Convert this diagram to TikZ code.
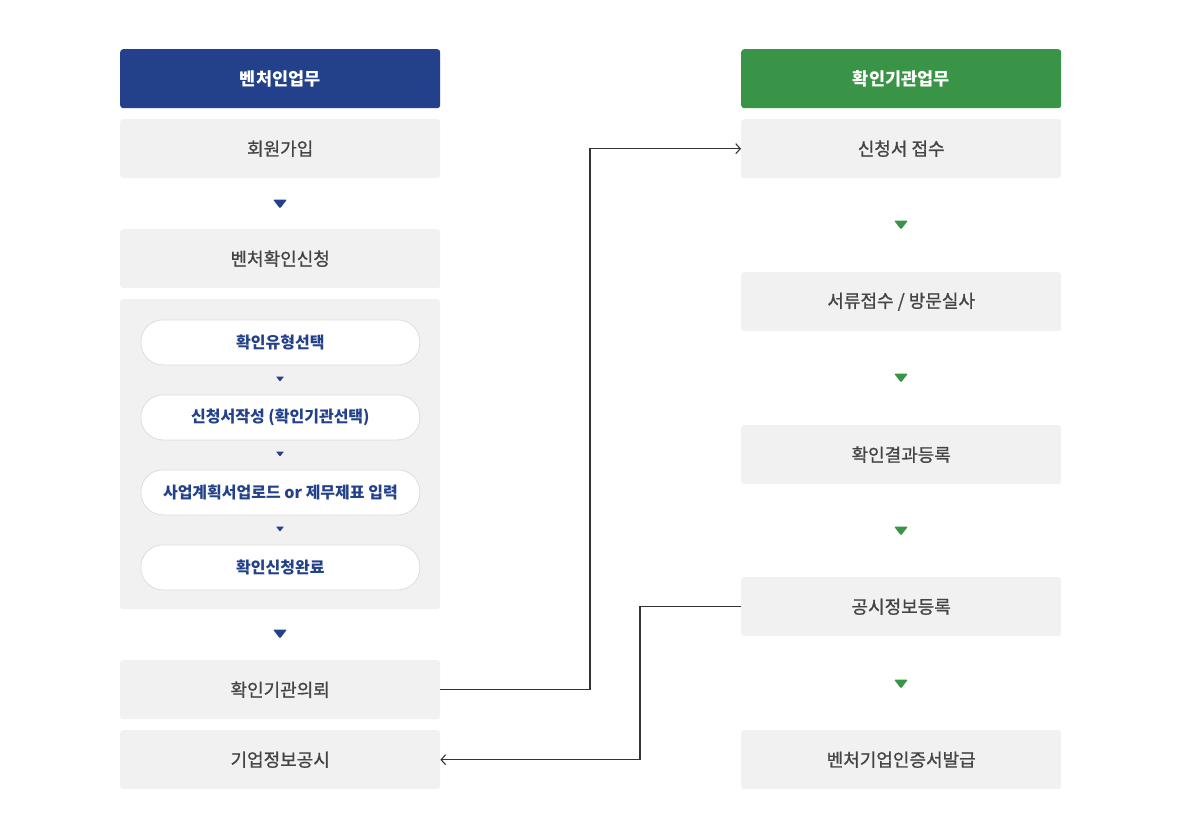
\documentclass[tikz,border=0pt]{standalone}
\usepackage{fontspec}
\setmainfont{Noto Sans CJK KR}
\newfontfamily\medfont[FakeBold=0.9]{Noto Sans CJK KR}
\usetikzlibrary{arrows.meta}
\definecolor{vblue}{HTML}{22418A}
\definecolor{vgreen}{HTML}{3A9447}
\definecolor{vgray}{HTML}{F1F1F1}
\definecolor{vtext}{HTML}{444444}
\definecolor{vline}{HTML}{333333}
\definecolor{pillborder}{HTML}{DDDDDD}
\tikzset{
  hdr/.style={rounded corners=3pt, minimum width=320pt, minimum height=59pt, anchor=north west, inner sep=0pt, text=white, font=\fontsize{17.5}{20}\selectfont\bfseries},
  bluehdr/.style={hdr, fill=vblue},
  greenhdr/.style={hdr, fill=vgreen},
  graybox/.style={rounded corners=3pt, fill=vgray, minimum width=320pt, minimum height=59pt, anchor=north west, inner sep=0pt, text=vtext, font=\medfont\fontsize{18}{21}\selectfont},
  panel/.style={rounded corners=3pt, fill=vgray, minimum width=320pt, minimum height=310pt, anchor=north west, inner sep=0pt},
  pill/.style={rounded corners=22pt, fill=white, draw=pillborder, line width=0.8pt, minimum width=279pt, minimum height=45pt, anchor=north west, inner sep=0pt, text=vblue, font=\fontsize{16}{19}\selectfont\bfseries},
  conn/.style={draw=vline, line width=1.1pt},
  tip/.style={-{Straight Barb[length=4.5pt,width=10pt,line width=1.1pt]}},
}
\newcommand{\bigtri}[3]{\fill[#1, rounded corners=1.2pt] (#2-7,#3-4.5) -- (#2+7,#3-4.5) -- (#2,#3+4.5) -- cycle;}
\newcommand{\smalltri}[3]{\fill[#1, rounded corners=0.6pt] (#2-4,#3-2.5) -- (#2+4,#3-2.5) -- (#2,#3+2.5) -- cycle;}
\begin{document}
\begin{tikzpicture}[x=1pt,y=-1pt]
\useasboundingbox (0,0) rectangle (1180,840);
\fill[white] (0,0) rectangle (1180,840);
% left column
\node[bluehdr] (lh) at (120,49) {벤처인업무};
\node[graybox] (l1) at (120,119) {회원가입};
\bigtri{vblue}{280}{204}
\node[graybox] (l2) at (120,229) {벤처확인신청};
\node[panel] (lp) at (120,299) {};
\node[pill] (p1) at (140.5,319.5) {확인유형선택};
\smalltri{vblue}{280}{379}
\node[pill] (p2) at (140.5,394.5) {신청서작성 (확인기관선택)};
\smalltri{vblue}{280}{454}
\node[pill] (p3) at (140.5,469.5) {사업계획서업로드 or 제무제표 입력};
\smalltri{vblue}{280}{529}
\node[pill] (p4) at (140.5,544.5) {확인신청완료};
\bigtri{vblue}{280}{634}
\node[graybox] (l3) at (120,660) {확인기관의뢰};
\node[graybox] (l4) at (120,730) {기업정보공시};
% right column
\node[greenhdr] (rh) at (741,49) {확인기관업무};
\node[graybox] (r1) at (741,119) {신청서 접수};
\bigtri{vgreen}{901}{225}
\node[graybox] (r2) at (741,272) {서류접수 / 방문실사};
\bigtri{vgreen}{901}{378}
\node[graybox] (r3) at (741,425) {확인결과등록};
\bigtri{vgreen}{901}{531}
\node[graybox] (r4) at (741,577) {공시정보등록};
\bigtri{vgreen}{901}{684}
\node[graybox] (r5) at (741,730) {벤처기업인증서발급};
% connectors
\coordinate (c1) at (590,0);
\coordinate (c2) at (640,0);
\draw[conn, tip] (l3.east) -- (l3.east -| c1) -- (r1.west -| c1) -- (r1.west);
\draw[conn, tip] (r4.west) -- (r4.west -| c2) -- (l4.east -| c2) -- (l4.east);
\end{tikzpicture}
\end{document}
